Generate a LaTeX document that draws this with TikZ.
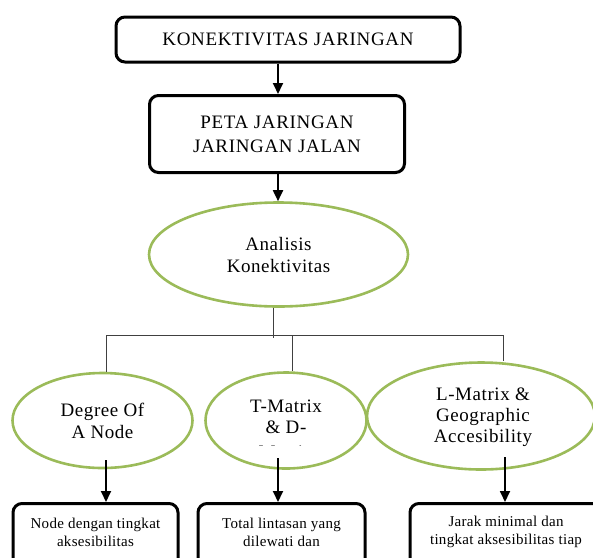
\documentclass[tikz,border=0pt]{standalone}
\usepackage{fontspec}
\setmainfont{Liberation Serif}
\usetikzlibrary{shapes.geometric,arrows.meta}
\definecolor{olive}{HTML}{9BBB59}
\definecolor{conn}{HTML}{404040}
\newcommand{\bigfont}{\fontsize{19}{24}\selectfont\addfontfeatures{LetterSpace=3.5}}
\newcommand{\ovalfont}{\fontsize{19}{21}\selectfont\addfontfeatures{LetterSpace=3}}
\newcommand{\smallfont}{\fontsize{15}{18}\selectfont\addfontfeatures{LetterSpace=2}}
\begin{document}
\begin{tikzpicture}[x=1pt,y=-1pt,
  bigbox/.style={draw=black,line width=3pt,rounded corners=9pt,align=center,inner sep=0pt,font=\bigfont},
  smallbox/.style={draw=black,line width=3pt,rounded corners=9pt,align=center,inner sep=0pt},
  oval/.style={ellipse,draw=olive,line width=2.6pt,align=center,inner sep=0pt,font=\ovalfont},
  ovaltext/.style={align=center,inner sep=0pt,font=\ovalfont},
  smalltext/.style={align=center,inner sep=0pt,font=\smallfont},
  arr/.style={draw=black,line width=1.8pt,-{Triangle[length=11pt,width=10pt]}},
  tree/.style={draw=conn,line width=1pt}]
\useasboundingbox (0,0) rectangle (593,557);
\clip (0,0) rectangle (593,557);
% top boxes
\node[bigbox,minimum width=344pt,minimum height=45pt] (kj) at (288,39.5) {KONEKTIVITAS JARINGAN};
\node[bigbox,minimum width=255pt,minimum height=77pt] (pj) at (277,134) {PETA JARINGAN\\JARINGAN JALAN};
% main ellipse
\node[oval,minimum width=259pt,minimum height=104pt] (an) at (278.5,254.5) {};
\node[ovaltext,text depth=0pt] (ant) at (278.5,255) {Analisis\\[1pt]Konektivitas};
% second level ellipses
\node[oval,minimum width=180pt,minimum height=95pt] (deg) at (102.5,420.5) {};
\node[ovaltext] (degt) at (102.5,421) {Degree Of\\[1pt]A Node};
\node[oval,minimum width=161pt,minimum height=96pt] (tm) at (286,420.5) {};
\node[ovaltext] (tmt) at (286,417) {T-Matrix\\\& D-};
\begin{scope}
\clip (220,438) rectangle (350,445);
\node[ovaltext] (tm3) at (286,452) {Matrix};
\end{scope}
\node[oval,minimum width=228pt,minimum height=107pt] (lm) at (481,416) {};
\node[ovaltext] (lmt) at (483,417) {L-Matrix \&\\Geographic\\Accesibility};
% bottom boxes
\node[smallbox,minimum width=165pt,minimum height=80pt,anchor=north] (na) at (95.5,502) {};
\node[smalltext] (nat) at (95.5,532) {Node dengan tingkat\\aksesibilitas};
\node[smallbox,minimum width=167pt,minimum height=80pt,anchor=north] (nb) at (281.5,502) {};
\node[smalltext] (nbt) at (281.5,532) {Total lintasan yang\\dilewati dan};
\node[smallbox,minimum width=200pt,minimum height=80pt,anchor=north] (nc) at (510,502) {};
\node[smalltext] (nct) at (506,532) {Jarak minimal dan\\tingkat aksesibilitas tiap};
% arrows
\draw[arr] (kj.south -| 278,0) -- (pj.north -| 278,0);
\draw[arr] (pj.south -| 278,0) -- (an.north -| 278,0);
% tree
\coordinate (jC) at (273,338);
\coordinate (jL) at (106,335);
\coordinate (jM) at (292,335);
\coordinate (jR) at (503,335);
\draw[tree] (jC |- an.south) -- (jC);
\draw[tree] (jL |- deg.north) -- (jL) -- (jR) -- (jR |- 0,361);
\draw[tree] (jM) -- (jM |- tm.north);
% arrows down
\coordinate (aL) at (106,460);
\coordinate (aM) at (278,458);
\coordinate (aR) at (505,457);
\draw[arr] (aL) -- (aL |- na.north);
\draw[arr] (aM) -- (aM |- nb.north);
\draw[arr] (aR) -- (aR |- nc.north);
\end{tikzpicture}
\end{document}
